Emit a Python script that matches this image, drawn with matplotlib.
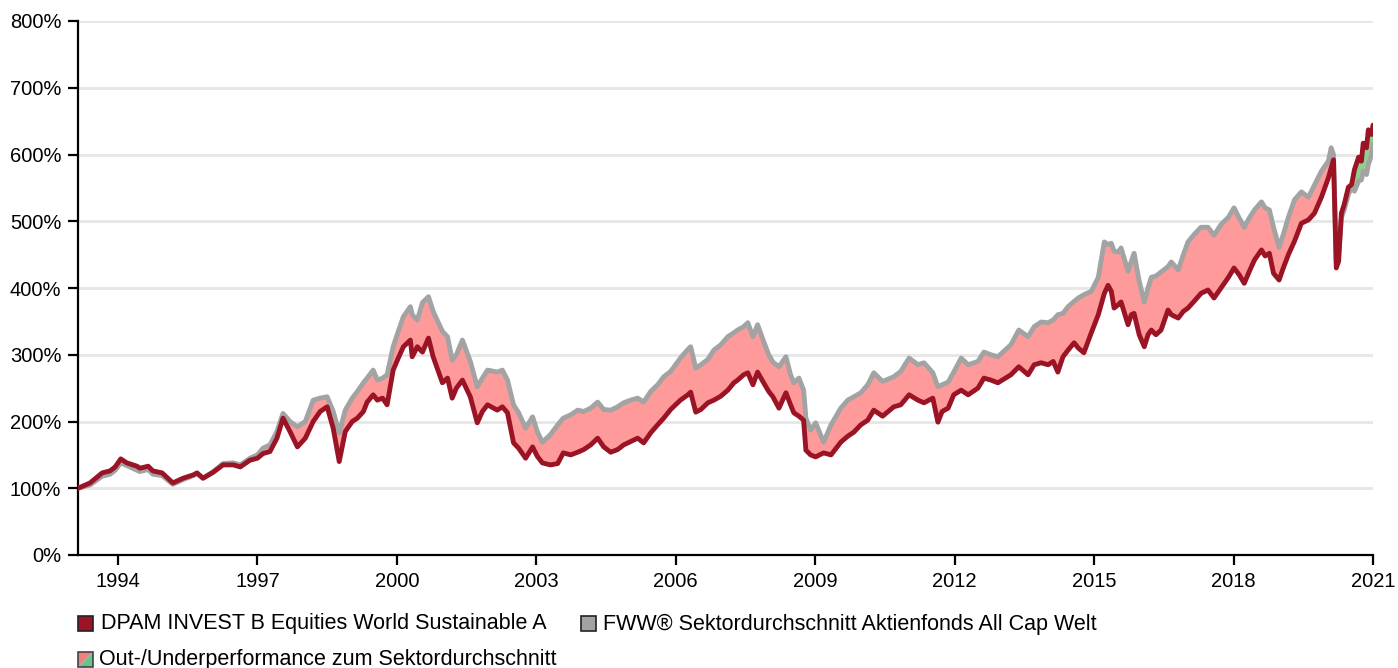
import matplotlib
matplotlib.use("Agg")
import matplotlib.pyplot as plt
from matplotlib.patches import Rectangle, Polygon
import numpy as np

# ---------------- data ----------------
years = [1993.14, 1993.40, 1993.66, 1993.83, 1993.94, 1994.06, 1994.19, 1994.41, 1994.47, 1994.65,
         1994.75, 1994.95, 1995.18, 1995.40, 1995.62, 1995.70, 1995.83, 1996.05, 1996.26, 1996.48,
         1996.63, 1996.84, 1997.00, 1997.12, 1997.27, 1997.42, 1997.55, 1997.70, 1997.86, 1998.03,
         1998.20, 1998.35, 1998.50, 1998.63, 1998.76, 1998.89, 1999.04, 1999.15, 1999.28, 1999.36,
         1999.49, 1999.58, 1999.69, 1999.79, 1999.92, 2000.03, 2000.14, 2000.29, 2000.33, 2000.44,
         2000.55, 2000.68, 2000.78, 2000.98, 2001.09, 2001.19, 2001.28, 2001.41, 2001.58, 2001.73,
         2001.84, 2001.95, 2002.16, 2002.27, 2002.38, 2002.51, 2002.62, 2002.77, 2002.92, 2003.02,
         2003.13, 2003.30, 2003.46, 2003.58, 2003.74, 2003.89, 2004.02, 2004.17, 2004.32, 2004.45,
         2004.60, 2004.75, 2004.88, 2005.03, 2005.18, 2005.31, 2005.46, 2005.61, 2005.74, 2005.89,
         2006.10, 2006.26, 2006.32, 2006.43, 2006.54, 2006.69, 2006.82, 2006.97, 2007.12, 2007.25,
         2007.33, 2007.46, 2007.55, 2007.66, 2007.76, 2007.89, 2008.00, 2008.09, 2008.22, 2008.37,
         2008.47, 2008.54, 2008.65, 2008.75, 2008.80, 2008.90, 2009.01, 2009.18, 2009.34, 2009.55,
         2009.70, 2009.83, 2009.98, 2010.13, 2010.26, 2010.45, 2010.69, 2010.84, 2011.02, 2011.21,
         2011.34, 2011.53, 2011.64, 2011.73, 2011.86, 2011.98, 2012.14, 2012.29, 2012.50, 2012.63,
         2012.78, 2012.93, 2013.21, 2013.38, 2013.58, 2013.71, 2013.86, 2014.01, 2014.12, 2014.22,
         2014.33, 2014.44, 2014.57, 2014.66, 2014.78, 2014.94, 2015.09, 2015.22, 2015.30, 2015.37,
         2015.43, 2015.52, 2015.58, 2015.73, 2015.80, 2015.86, 2015.97, 2016.08, 2016.16, 2016.23,
         2016.33, 2016.44, 2016.59, 2016.66, 2016.81, 2016.92, 2017.02, 2017.15, 2017.30, 2017.45,
         2017.58, 2017.73, 2017.89, 2018.01, 2018.12, 2018.23, 2018.34, 2018.45, 2018.60, 2018.68,
         2018.77, 2018.86, 2018.98, 2019.07, 2019.18, 2019.31, 2019.46, 2019.61, 2019.74, 2019.89,
         2020.04, 2020.10, 2020.15, 2020.21, 2020.26, 2020.32, 2020.38, 2020.47, 2020.54, 2020.60,
         2020.69, 2020.75, 2020.79, 2020.86, 2020.90, 2020.97, 2021.00]

fund = [100, 108, 123, 126, 132, 144, 138, 133, 130, 133,
        126, 123, 108, 115, 120, 123, 115, 124, 135, 135,
        132, 142, 145, 152, 155, 175, 205, 185, 162, 175,
        200, 215, 222, 190, 140, 185, 200, 205, 215, 229,
        240, 232, 235, 225, 277, 295, 312, 322, 297, 312,
        304, 325, 297, 258, 265, 235, 250, 262, 237, 198,
        215, 225, 217, 222, 213, 168, 160, 145, 162, 148,
        138, 135, 137, 153, 150, 154, 158, 165, 175, 162,
        154, 158, 165, 170, 175, 168, 183, 195, 205, 218,
        232, 240, 244, 214, 218, 228, 232, 238, 247, 258,
        262, 270, 273, 255, 274, 258, 245, 237, 220, 243,
        225, 213, 208, 202, 157, 150, 147, 153, 150, 169,
        178, 184, 195, 202, 217, 208, 222, 225, 240, 232,
        228, 235, 199, 215, 220, 240, 247, 240, 250, 265,
        262, 258, 270, 282, 270, 285, 288, 285, 290, 274,
        297, 307, 318, 310, 303, 333, 360, 392, 404, 395,
        370, 375, 379, 345, 360, 362, 330, 312, 330, 337,
        330, 337, 367, 360, 355, 365, 370, 380, 392, 397,
        385, 400, 416, 430, 420, 407, 425, 442, 457, 448,
        452, 422, 412, 430, 450, 470, 497, 502, 512, 536,
        565, 580, 592, 430, 440, 512, 525, 551, 555, 577,
        596, 590, 617, 610, 637, 630, 644]

sector = [100, 105, 118, 121, 127, 138, 134, 127, 125, 128,
          121, 119, 106, 113, 119, 122, 115, 125, 137, 138,
          135, 145, 150, 160, 165, 185, 212, 200, 192, 200,
          232, 235, 237, 215, 183, 217, 235, 245, 258, 265,
          277, 262, 265, 270, 312, 335, 357, 372, 360, 352,
          378, 387, 365, 335, 327, 292, 300, 322, 290, 252,
          265, 277, 274, 277, 262, 225, 213, 190, 207, 185,
          169, 180, 195, 205, 210, 217, 215, 220, 229, 218,
          217, 222, 228, 232, 235, 229, 245, 255, 267, 275,
          295, 308, 312, 280, 285, 293, 307, 315, 327, 333,
          337, 342, 348, 327, 345, 320, 300, 289, 282, 297,
          270, 258, 265, 247, 205, 187, 198, 169, 195, 220,
          232, 237, 243, 255, 273, 260, 267, 275, 295, 285,
          288, 273, 252, 255, 259, 274, 295, 285, 290, 304,
          300, 297, 315, 337, 327, 342, 349, 348, 352, 360,
          362, 372, 380, 385, 390, 395, 416, 469, 465, 467,
          455, 454, 460, 425, 440, 452, 410, 379, 400, 416,
          418, 424, 432, 439, 427, 450, 469, 480, 491, 491,
          479, 495, 506, 520, 505, 491, 505, 517, 529, 520,
          517, 491, 461, 480, 506, 532, 544, 536, 554, 575,
          590, 610, 600, 440, 450, 505, 517, 540, 551, 545,
          560, 562, 575, 570, 585, 600, 615]

y_ticks = [0, 100, 200, 300, 400, 500, 600, 700, 800]
x_ticks = [1994, 1997, 2000, 2003, 2006, 2009, 2012, 2015, 2018, 2021]

fund_label = "DPAM INVEST B Equities World Sustainable A"
sector_label = "FWW® Sektordurchschnitt Aktienfonds All Cap Welt"
diff_label = "Out-/Underperformance zum Sektordurchschnitt"

# ---------------- style ----------------
RED = "#9b1426"
GRAY = "#a3a3a3"
PINK = "#ff9a9a"
GREEN = "#8fcf8f"
FONT = ["Liberation Sans", "DejaVu Sans"]
plt.rcParams["font.family"] = FONT
FS = 14.5
LFS = 15.5

W, H = 1398, 668
fig = plt.figure(figsize=(W / 100, H / 100), dpi=100)
ax = fig.add_axes([78 / W, 1 - 555 / H, (1373 - 78) / W, (555 - 21) / H])

x = np.array(years)
f = np.array(fund)
s = np.array(sector)

ax.fill_between(x, f, s, where=s >= f, interpolate=True, color=PINK, lw=0, zorder=2)
ax.fill_between(x, f, s, where=f > s, interpolate=True, color=GREEN, lw=0, zorder=2)
ax.plot(x, s, color=GRAY, lw=3.5, zorder=3, solid_joinstyle="round", solid_capstyle="round")
ax.plot(x, f, color=RED, lw=3.5, zorder=4, solid_joinstyle="round", solid_capstyle="round")

ax.set_xlim(1993.14, 2021.0)
ax.set_ylim(0, 800)
ax.set_yticks(y_ticks)
ax.set_yticklabels([f"{v}%" for v in y_ticks])
ax.set_xticks(x_ticks)
ax.set_xticklabels([str(v) for v in x_ticks])
ax.grid(axis="y", color="#e6e6e6", lw=2, zorder=0)
ax.set_axisbelow(True)
for sp in ["top", "right"]:
    ax.spines[sp].set_visible(False)
for sp in ["left", "bottom"]:
    ax.spines[sp].set_linewidth(1.6)
    ax.spines[sp].set_color("black")
ax.tick_params(axis="both", length=7, width=1.6, labelsize=FS, colors="black")
ax.tick_params(axis="y", pad=5)
ax.tick_params(axis="x", pad=5)

# ---------------- legend (manual) ----------------
def fx(px):
    return px / W

def fy(py):
    return 1 - py / H

sq = 15
def square(px, py, color):
    fig.add_artist(Rectangle((fx(px), fy(py + sq)), sq / W, sq / H, transform=fig.transFigure,
                             facecolor=color, edgecolor="#222222", lw=1.2))

square(78, 616, RED)
fig.text(fx(101), fy(624), fund_label, fontsize=LFS, va="center", ha="left")
square(581, 616, GRAY)
fig.text(fx(603), fy(624), sector_label, fontsize=LFS, va="center", ha="left")

# split square for out-/underperformance
px, py = 78, 652
x0, x1 = fx(px), fx(px + sq)
y0, y1 = fy(py + sq), fy(py)
fig.add_artist(Polygon([(x0, y0), (x0, y1), (x1, y1)], closed=True, transform=fig.transFigure,
                       facecolor="#f08080", edgecolor="none"))
fig.add_artist(Polygon([(x0, y0), (x1, y1), (x1, y0)], closed=True, transform=fig.transFigure,
                       facecolor="#6cc38a", edgecolor="none"))
fig.add_artist(Rectangle((x0, y0), sq / W, sq / H, transform=fig.transFigure,
                         facecolor="none", edgecolor="#444444", lw=1.2))
fig.text(fx(99), fy(660), diff_label, fontsize=LFS, va="center", ha="left")

fig.savefig("out.png", dpi=100)
